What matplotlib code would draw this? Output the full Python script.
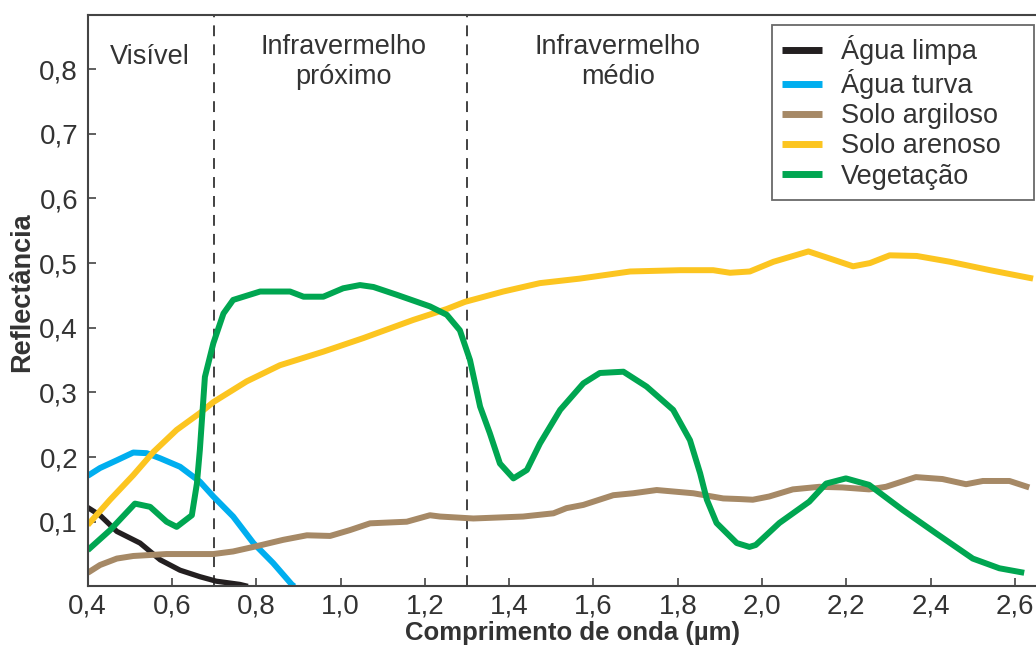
import matplotlib
matplotlib.use("Agg")
import matplotlib.pyplot as plt

plt.rcParams['font.family'] = ['Liberation Sans', 'DejaVu Sans']

# reflectance curves (wavelength in um, reflectance 0-1)
agua_limpa_x = [0.4, 0.429, 0.469, 0.524, 0.572, 0.619, 0.666, 0.705, 0.761, 0.78]
agua_limpa_y = [0.122, 0.110, 0.085, 0.067, 0.041, 0.025, 0.015, 0.008, 0.003, 0.0]

agua_turva_x = [0.4, 0.429, 0.469, 0.508, 0.54, 0.572, 0.619, 0.666, 0.698, 0.745, 0.793, 0.84, 0.884, 0.89]
agua_turva_y = [0.171, 0.183, 0.195, 0.207, 0.206, 0.198, 0.185, 0.162, 0.139, 0.108, 0.067, 0.036, 0.003, 0.0]

argiloso_x = [0.4, 0.429, 0.469, 0.508, 0.587, 0.698, 0.745, 0.793, 0.864, 0.92, 0.975, 1.022, 1.07,
              1.157, 1.212, 1.236, 1.315, 1.433, 1.505, 1.536, 1.576, 1.647, 1.694, 1.75, 1.837, 1.908,
              1.948, 1.978, 2.017, 2.073, 2.136, 2.191, 2.254, 2.294, 2.365, 2.428, 2.484, 2.524, 2.587, 2.634]
argiloso_y = [0.021, 0.033, 0.043, 0.047, 0.050, 0.050, 0.054, 0.061, 0.072, 0.079, 0.078, 0.087, 0.0975,
              0.100, 0.110, 0.108, 0.105, 0.108, 0.113, 0.121, 0.126, 0.141, 0.144, 0.149, 0.144, 0.136,
              0.135, 0.134, 0.139, 0.150, 0.154, 0.153, 0.150, 0.154, 0.169, 0.166, 0.158, 0.163, 0.163, 0.153]

arenoso_x = [0.4, 0.453, 0.508, 0.556, 0.611, 0.666, 0.698, 0.777, 0.856, 0.959, 1.054, 1.172, 1.252,
             1.295, 1.386, 1.473, 1.568, 1.687, 1.806, 1.884, 1.924, 1.971, 2.027, 2.11, 2.161, 2.216,
             2.256, 2.303, 2.367, 2.446, 2.541, 2.643]
arenoso_y = [0.095, 0.134, 0.172, 0.208, 0.242, 0.268, 0.285, 0.317, 0.342, 0.363, 0.384, 0.412, 0.429,
             0.440, 0.456, 0.469, 0.476, 0.487, 0.489, 0.489, 0.485, 0.487, 0.502, 0.518, 0.507, 0.495,
             0.500, 0.512, 0.511, 0.502, 0.489, 0.476]

vegetacao_x = [0.4, 0.453, 0.512, 0.548, 0.587, 0.611, 0.647, 0.659, 0.666, 0.678, 0.698, 0.722, 0.745,
               0.809, 0.88, 0.912, 0.959, 1.006, 1.046, 1.078, 1.133, 1.212, 1.252, 1.283, 1.307, 1.331,
               1.354, 1.378, 1.41, 1.442, 1.473, 1.521, 1.576, 1.615, 1.671, 1.726, 1.789, 1.829, 1.853,
               1.869, 1.892, 1.94, 1.97, 1.985, 2.041, 2.112, 2.152, 2.199, 2.254, 2.334, 2.413, 2.5,
               2.563, 2.622]
vegetacao_y = [0.056, 0.087, 0.128, 0.123, 0.100, 0.092, 0.110, 0.159, 0.211, 0.324, 0.376, 0.422, 0.443,
               0.456, 0.456, 0.448, 0.448, 0.461, 0.466, 0.463, 0.451, 0.433, 0.420, 0.396, 0.350, 0.278,
               0.237, 0.190, 0.167, 0.180, 0.221, 0.273, 0.314, 0.330, 0.332, 0.309, 0.273, 0.226, 0.175,
               0.134, 0.098, 0.067, 0.061, 0.064, 0.098, 0.131, 0.159, 0.167, 0.157, 0.118, 0.082, 0.043,
               0.028, 0.021]

x_ticks = [0.4, 0.6, 0.8, 1.0, 1.2, 1.4, 1.6, 1.8, 2.0, 2.2, 2.4, 2.6]
y_ticks = [0.1, 0.2, 0.3, 0.4, 0.5, 0.6, 0.7, 0.8]
region_edges = [0.7, 1.3]

fig = plt.figure(figsize=(10.36, 6.57), dpi=100)
ax = fig.add_axes([0.0847, 0.1075, 0.9153, 0.870])

lw = 4.3
ax.plot(agua_limpa_x, agua_limpa_y, color='#231f20', lw=3.8, label='Água limpa', solid_capstyle='butt')
ax.plot(agua_turva_x, agua_turva_y, color='#00aeef', lw=lw, label='Água turva', solid_capstyle='butt')
ax.plot(argiloso_x, argiloso_y, color='#a68966', lw=lw, label='Solo argiloso', solid_capstyle='butt')
ax.plot(arenoso_x, arenoso_y, color='#fcc520', lw=lw, label='Solo arenoso', solid_capstyle='butt')
ax.plot(vegetacao_x, vegetacao_y, color='#00a651', lw=lw, label='Vegetação', solid_capstyle='butt')

for xe in region_edges:
    ax.axvline(xe, color='#333333', lw=1.3, ls=(0, (6, 4.5)), zorder=1)

txt = dict(fontsize=19.5, color='#333333', ha='center', va='center', linespacing=1.2)
ax.text(0.548, 0.818, 'Visível', **txt)
ax.text(1.006, 0.811, 'Infravermelho\npróximo', **txt)
ax.text(1.658, 0.811, 'Infravermelho\nmédio', **txt)

ax.set_xlim(0.4, 2.65)
ax.set_ylim(0, 0.884)
ax.set_xticks(x_ticks)
ax.set_xticklabels([f'{v:.1f}'.replace('.', ',') for v in x_ticks])
ax.set_yticks(y_ticks)
ax.set_yticklabels([f'{v:.1f}'.replace('.', ',') for v in y_ticks])
ax.tick_params(direction='in', length=5.5, width=1.2, colors='#444444', labelsize=20,
               labelcolor='#333333', pad=7)
ax.tick_params(axis='x', pad=5)

for side in ['left', 'bottom', 'top']:
    ax.spines[side].set_color('#444444')
    ax.spines[side].set_linewidth(1.5)
ax.spines['right'].set_visible(False)

ax.set_xlabel('Comprimento de onda (µm)', fontsize=18.5, fontweight='bold', color='#333333', va='center')
ax.xaxis.set_label_coords(0.511, -0.082)
ax.set_ylabel('Reflectância', fontsize=19.5, fontweight='bold', color='#333333', va='center')
ax.yaxis.set_label_coords(-0.0696, 0.514)

leg = ax.legend(loc='upper left', bbox_to_anchor=(0.745, 0.70, 0.253, 0.262), bbox_transform=fig.transFigure,
                mode='expand', fontsize=19.5, frameon=True, fancybox=False, shadow=False, borderaxespad=0,
                handlelength=1.48, handletextpad=0.69, labelspacing=0.15, borderpad=0.38,
                labelcolor='#333333')
leg.get_frame().set_edgecolor('#444444')
leg.get_frame().set_linewidth(1.3)
for line in leg.get_lines():
    line.set_linewidth(5)

fig.savefig('out.png', dpi=100)
